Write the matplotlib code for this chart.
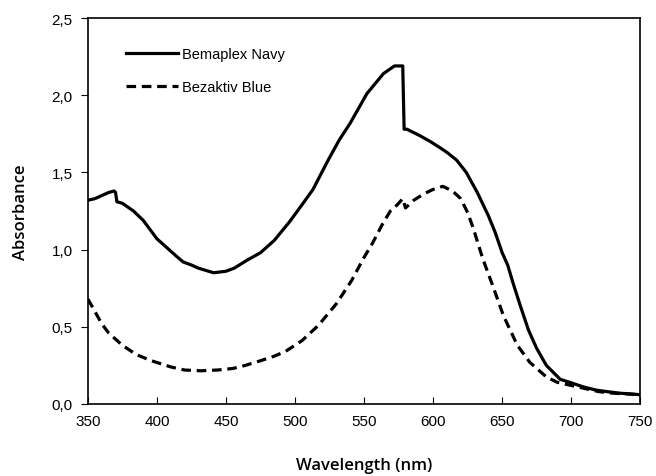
import matplotlib

matplotlib.use("Agg")
import matplotlib.pyplot as plt
from matplotlib.ticker import FuncFormatter, MultipleLocator

# Bemaplex Navy (solid)
navy_wl = [350, 355, 360, 365, 369, 370, 371, 375, 383, 390, 400, 410, 415, 419,
           425, 430, 441, 450, 456, 465, 475, 485, 496, 505, 513, 524, 532, 540,
           552, 564, 572, 578, 579, 581, 590, 598, 605, 610, 617, 624, 632, 640,
           645, 650, 654, 658, 663, 669, 675, 682, 692, 699, 709, 718, 726, 735,
           743, 750]
navy_abs = [1.32, 1.33, 1.35, 1.37, 1.38, 1.37, 1.31, 1.30, 1.25, 1.19, 1.07, 0.99,
            0.95, 0.92, 0.90, 0.88, 0.85, 0.86, 0.88, 0.93, 0.98, 1.06, 1.18, 1.29,
            1.39, 1.58, 1.71, 1.82, 2.01, 2.14, 2.19, 2.19, 1.78, 1.78, 1.74, 1.70,
            1.66, 1.63, 1.58, 1.50, 1.37, 1.22, 1.11, 0.98, 0.90, 0.78, 0.64, 0.48,
            0.36, 0.25, 0.16, 0.14, 0.11, 0.09, 0.08, 0.07, 0.065, 0.06]

# Bezaktiv Blue (dashed)
blue_wl = [350, 355, 360, 365, 370, 375, 385, 396, 410, 420, 432, 444, 455, 464,
           475, 485, 493, 505, 517, 530, 541, 550, 556, 563, 569, 574, 578, 580,
           586, 593, 600, 607, 614, 620, 625, 629, 636, 643, 651, 661, 670, 682,
           690, 700, 710, 720, 730, 740, 750]
blue_abs = [0.68, 0.60, 0.52, 0.46, 0.42, 0.38, 0.32, 0.28, 0.24, 0.22, 0.215, 0.22,
            0.23, 0.25, 0.28, 0.31, 0.34, 0.41, 0.51, 0.65, 0.80, 0.95, 1.04, 1.16,
            1.25, 1.29, 1.33, 1.27, 1.32, 1.36, 1.39, 1.41, 1.38, 1.33, 1.24, 1.14,
            0.94, 0.77, 0.57, 0.38, 0.27, 0.175, 0.14, 0.12, 0.10, 0.08, 0.07, 0.065,
            0.06]

series_labels = ["Bemaplex Navy", "Bezaktiv Blue"]

plt.rcParams["font.family"] = ["Liberation Sans", "DejaVu Sans"]

fig = plt.figure(figsize=(6.56, 4.77), dpi=100)
ax = fig.add_axes([0.134, 0.151, 0.842, 0.809])

ax.plot(navy_wl, navy_abs, color="black", linewidth=2.3, label=series_labels[0])
ax.plot(blue_wl, blue_abs, color="black", linewidth=2.3, linestyle=(0, (3, 1.8)),
        label=series_labels[1])

ax.set_xlim(350, 750)
ax.set_ylim(0, 2.5)
ax.xaxis.set_major_locator(MultipleLocator(50))
ax.yaxis.set_major_locator(MultipleLocator(0.5))
ax.yaxis.set_major_formatter(FuncFormatter(lambda v, p: f"{v:.1f}".replace(".", ",")))
ax.tick_params(axis="x", direction="in", length=5, labelsize=11, pad=7)
ax.tick_params(axis="y", direction="out", length=5, labelsize=11, pad=6)
for s in ax.spines.values():
    s.set_linewidth(1.2)

ax.set_xlabel("Wavelength (nm)", fontsize=12, fontweight="semibold",
              family=["Open Sans", "DejaVu Sans"], labelpad=21)
ax.set_ylabel("Absorbance", fontsize=12, fontweight="semibold",
              family=["Open Sans", "DejaVu Sans"], labelpad=16)

ax.legend(loc="upper left", bbox_to_anchor=(0.045, 0.958), frameon=False,
          fontsize=10.5, handlelength=3.6, handletextpad=0.25, labelspacing=1.25)

fig.savefig("out.png", dpi=100)
plt.close(fig)
